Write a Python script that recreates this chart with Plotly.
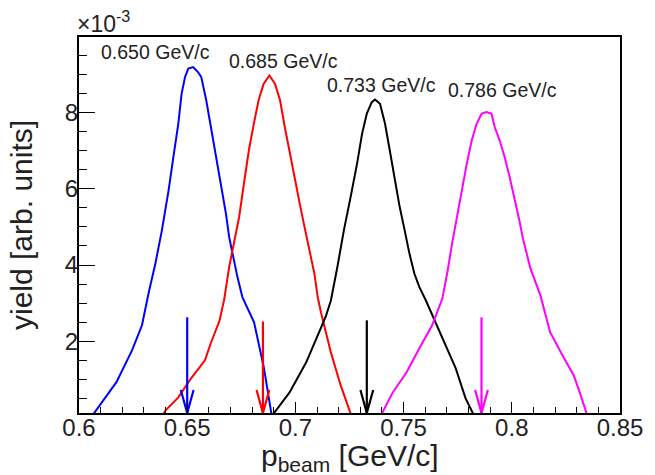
import plotly.graph_objects as go

# ---- data (yield in units of 1e-3) ----
blue_x = [0.6055, 0.6111, 0.6173, 0.6245, 0.6291, 0.6323, 0.6353, 0.6383, 0.6414, 0.6436, 0.6459,
          0.6474, 0.6490, 0.6505, 0.6527, 0.6550, 0.6565, 0.6588, 0.6610, 0.6633, 0.6656, 0.6679,
          0.6694, 0.6709, 0.6732, 0.6755, 0.6809, 0.6855, 0.6882, 0.6892]
blue_y = [0.0, 0.45, 0.93, 1.76, 2.42, 3.30, 4.04, 4.91, 5.96, 6.83, 7.71,
          8.49, 8.93, 9.15, 9.19, 9.06, 8.93, 8.32, 7.62, 6.92, 6.13, 5.35,
          4.73, 4.30, 3.69, 3.16, 2.50, 1.29, 0.24, 0.0]

red_x = [0.638, 0.640, 0.6459, 0.6518, 0.6582, 0.6609, 0.6650, 0.6671, 0.6694, 0.6717, 0.6740,
         0.6762, 0.6785, 0.6808, 0.6830, 0.6853, 0.6880, 0.6906, 0.6929, 0.6951, 0.6974, 0.6997,
         0.7020, 0.7042, 0.7065, 0.7088, 0.7103, 0.7118, 0.7164, 0.7209, 0.7255, 0.7262]
red_y = [0.0, 0.19, 0.53, 1.03, 1.50, 1.95, 2.55, 3.10, 3.95, 4.56, 5.26,
         6.13, 7.01, 7.71, 8.32, 8.75, 8.97, 8.75, 8.32, 7.62, 6.92, 6.22,
         5.61, 5.00, 4.39, 3.77, 3.16, 2.76, 1.71, 0.85, 0.11, 0.0]

black_x = [0.6895, 0.6900, 0.6973, 0.7050, 0.7141, 0.7164, 0.7194, 0.7224, 0.7255, 0.7285, 0.7308,
           0.7330, 0.7353, 0.7368, 0.7391, 0.7414, 0.7436, 0.7459, 0.7482, 0.7505, 0.7527, 0.7550,
           0.7573, 0.7603, 0.7632, 0.7695, 0.7741, 0.7786, 0.7823, 0.7830]
black_y = [0.0, 0.11, 0.66, 1.45, 2.66, 3.07, 3.95, 4.91, 5.78, 6.66, 7.44,
           7.97, 8.27, 8.34, 8.23, 7.71, 7.01, 6.22, 5.52, 4.91, 4.30, 3.77,
           3.42, 3.07, 2.69, 1.90, 1.29, 0.51, 0.11, 0.0]

mag_x = [0.7397, 0.7400, 0.7450, 0.7514, 0.7573, 0.7632, 0.7679, 0.7701, 0.7724, 0.7747, 0.7770,
         0.7792, 0.7815, 0.7838, 0.7861, 0.7883, 0.7906, 0.7921, 0.7944, 0.7967, 0.7990, 0.8012,
         0.8035, 0.8050, 0.8059, 0.8086, 0.8132, 0.8177, 0.8241, 0.8286, 0.8314, 0.8345, 0.8352]
mag_y = [0.0, 0.11, 0.66, 1.19, 1.82, 2.42, 3.12, 3.77, 4.56, 5.26, 6.04,
         6.66, 7.27, 7.71, 7.97, 8.01, 7.97, 7.62, 7.27, 6.83, 6.31, 5.78,
         5.17, 4.73, 4.52, 3.91, 3.21, 2.24, 1.56, 1.11, 0.66, 0.11, 0.0]

beam_p = [0.650, 0.685, 0.733, 0.786]          # nominal momenta (arrows + labels)
arrow_top = [2.63, 2.52, 2.55, 2.63]
label_x = [0.6354, 0.6944, 0.7397, 0.7956]
label_y = [9.58, 9.34, 8.71, 8.58]
colors = ["#0000ff", "#ff0000", "#000000", "#ff00ff"]

x_ticks = [0.6, 0.65, 0.7, 0.75, 0.8, 0.85]
x_ticktext = ["0.6", "0.65", "0.7", "0.75", "0.8", "0.85"]
y_ticks = [2, 4, 6, 8]
y_ticktext = ["2", "4", "6", "8"]

X_RANGE = [0.6, 0.85]
Y_RANGE = [0.12, 9.98]

W, H = 655, 475
ML, MR, MT, MB = 79, 26, 37, 62
PW, PH = W - ML - MR, H - MT - MB
FONT = "Liberation Sans, Arial, Helvetica, sans-serif"
TXT = "#222222"

fig = go.Figure()
series = [(blue_x, blue_y), (red_x, red_y), (black_x, black_y), (mag_x, mag_y)]
for (xs, ys), c in zip(series, colors):
    fig.add_trace(go.Scatter(x=xs, y=ys, mode="lines", line=dict(color=c, width=2),
                             showlegend=False, hoverinfo="skip"))

# arrows: shaft + open V head (head size in px converted to data units)
hx = 6.5 / PW * (X_RANGE[1] - X_RANGE[0])
hy = 23.0 / PH * (Y_RANGE[1] - Y_RANGE[0])
tip = Y_RANGE[0]
for p, top, c in zip(beam_p, arrow_top, colors):
    fig.add_trace(go.Scatter(
        x=[p, p, None, p - hx, p, p + hx],
        y=[top, tip, None, tip + hy, tip, tip + hy],
        mode="lines", line=dict(color=c, width=2.2),
        showlegend=False, hoverinfo="skip"))

for p, lx, ly in zip(beam_p, label_x, label_y):
    fig.add_annotation(x=lx, y=ly, xref="x", yref="y", text=f"{p:.3f} GeV/c",
                       showarrow=False, font=dict(family=FONT, size=19.5, color=TXT),
                       xanchor="center", yanchor="middle")

# y-axis title
fig.add_annotation(x=0, y=0.5, xref="paper", yref="paper", text="yield [arb. units]",
                   textangle=-90, showarrow=False, xanchor="center", yanchor="middle",
                   xshift=-58, font=dict(family=FONT, size=30, color=TXT))
# x-axis title
fig.add_annotation(x=0.5, y=0, xref="paper", yref="paper",
                   text="p<sub>beam</sub> [GeV/c]",
                   showarrow=False, xanchor="center", yanchor="top",
                   yshift=-24, font=dict(family=FONT, size=30, color=TXT))
# exponent
fig.add_annotation(x=0, y=1, xref="paper", yref="paper",
                   text="×10<sup>-3</sup>", showarrow=False,
                   xanchor="left", yanchor="bottom", xshift=-4, yshift=-2,
                   font=dict(family=FONT, size=23, color=TXT))

fig.update_layout(
    width=W, height=H,
    margin=dict(l=ML, r=MR, t=MT, b=MB, pad=0),
    paper_bgcolor="white", plot_bgcolor="white",
    font=dict(family=FONT, color=TXT),
    xaxis=dict(range=X_RANGE, tickvals=x_ticks, ticktext=x_ticktext,
               ticks="inside", ticklen=11, tickwidth=1.2, tickcolor="black",
               ticklabelstandoff=-8,
               minor=dict(dtick=0.01, tick0=0.6, ticks="inside", ticklen=6, tickwidth=1.2, tickcolor="black"),
               showline=True, linecolor="black", linewidth=2, mirror=True,
               showgrid=False, zeroline=False, tickfont=dict(size=24, family=FONT, color=TXT)),
    yaxis=dict(range=Y_RANGE, tickvals=y_ticks, ticktext=y_ticktext,
               ticks="inside", ticklen=16, tickwidth=1.2, tickcolor="black",
               ticklabelstandoff=-6,
               minor=dict(dtick=0.5, tick0=0, ticks="inside", ticklen=8, tickwidth=1.2, tickcolor="black"),
               showline=True, linecolor="black", linewidth=2, mirror=True,
               showgrid=False, zeroline=False, tickfont=dict(size=24, family=FONT, color=TXT)),
)

fig.write_html("out.html")
